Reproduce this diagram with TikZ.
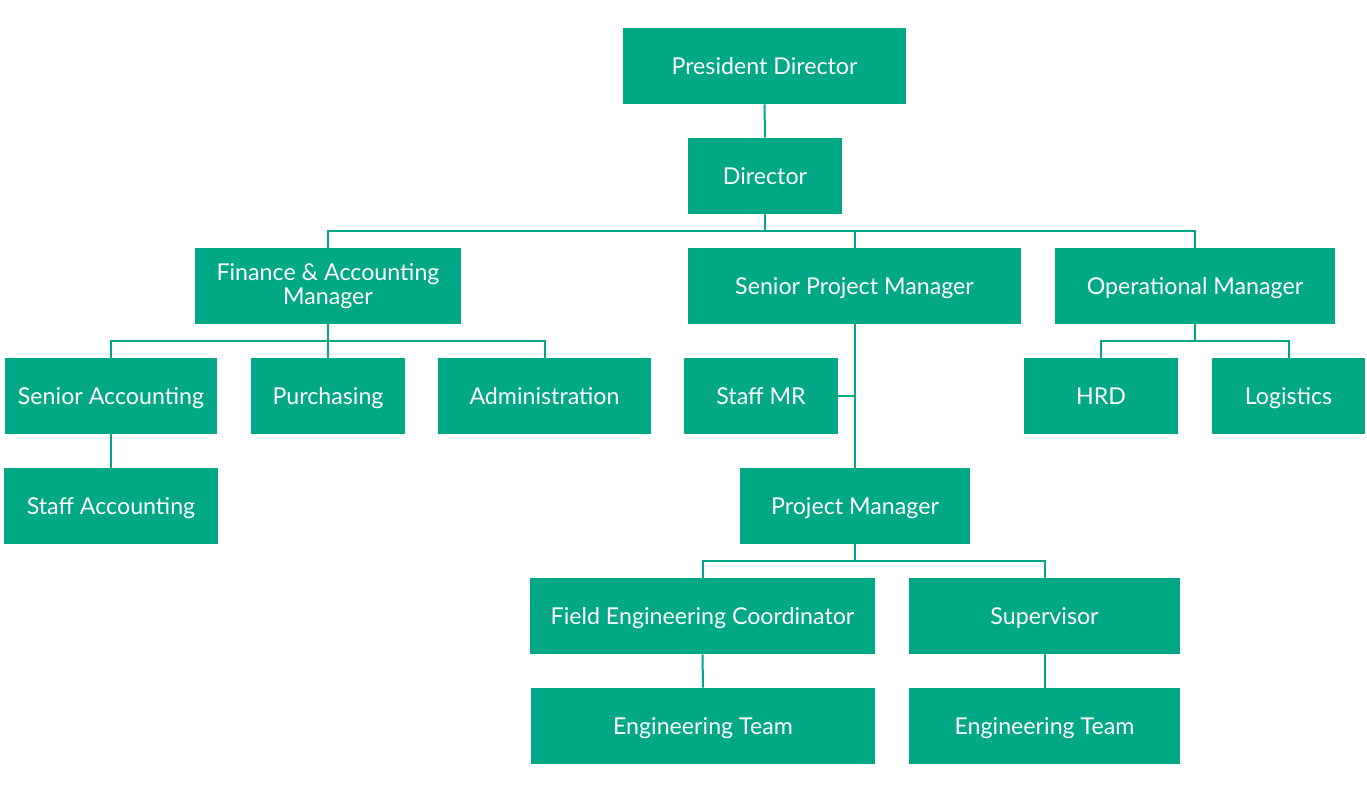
\documentclass[tikz,border=0pt]{standalone}
\usepackage{fontspec}
\setmainfont{Lato}
\usepackage{tikz}
\usetikzlibrary{positioning,calc}
\definecolor{orggreen}{HTML}{00A885}

\begin{document}
\begin{tikzpicture}[x=0.5pt,y=-0.5pt,font=\fontsize{11.6}{12}\selectfont,
  unit/.style={fill=orggreen,text=white,minimum height=38pt,align=center,inner sep=2pt,
    text height=9.6pt,text depth=1.4pt},
  link/.style={draw=orggreen,line width=1pt}]
\useasboundingbox (0,0) rectangle (1367,793);
% top
\node[unit,minimum width=141.5pt] (pres) at (764.5,66) {President Director};
\node[unit,minimum width=77pt] (dir) at (765,176) {Director};
% managers
\node[unit,minimum width=133pt,text height=,text depth=] (fin) at (328,286) {Finance \& Accounting\\Manager};
\node[unit,minimum width=166.5pt] (spm) at (854.5,286) {Senior Project Manager};
\node[unit,minimum width=140pt] (opm) at (1195,286) {Operational Manager};
% staff row
\node[unit,minimum width=106pt] (sacc) at (111,396) {Senior Accounting};
\node[unit,minimum width=77pt] (purch) at (328,396) {Purchasing};
\node[unit,minimum width=106.5pt] (admin) at (544.5,396) {Administration};
\node[unit,minimum width=77pt] (smr) at (761,396) {Staff MR};
\node[unit,minimum width=77pt] (hrd) at (1101,396) {HRD};
\node[unit,minimum width=76.5pt] (logi) at (1288.5,396) {Logistics};
\node[unit,minimum width=107pt] (stacc) at (111,506) {Staff Accounting};
\node[unit,minimum width=115pt] (pm) at (855,506) {Project Manager};
% project side
\node[unit,minimum width=172.5pt] (fec) at (702.5,616) {Field Engineering Coordinator};
\node[unit,minimum width=135.5pt] (sup) at (1044.5,616) {Supervisor};
\node[unit,minimum width=172pt] (eng1) at (703,726) {Engineering Team};
\node[unit,minimum width=135.5pt] (eng2) at (1044.5,726) {Engineering Team};
% buses
\coordinate (b1) at (765,231);
\coordinate (b2) at (328,341);
\coordinate (b3) at (1195,341);
\coordinate (b4) at (855,561);
% connectors
\draw[link] (pres) -- (dir);
\draw[link] (dir) -- (b1);
\draw[link] (fin) |- (b1) -| (opm);
\draw[link] (spm) -- (spm |- b1);
\draw[link] (fin) -- (purch);
\draw[link] (sacc) |- (b2) -| (admin);
\draw[link] (sacc) -- (stacc);
\draw[link] (opm) -- (b3);
\draw[link] (hrd) |- (b3) -| (logi);
\draw[link] (spm.south -| pm) -- (pm);
\draw[link] (smr) -- (smr -| pm);
\draw[link] (pm) -- (b4);
\draw[link] (fec) |- (b4) -| (sup);
\draw[link] (fec) -- (eng1);
\draw[link] (sup) -- (eng2);
\end{tikzpicture}
\end{document}
